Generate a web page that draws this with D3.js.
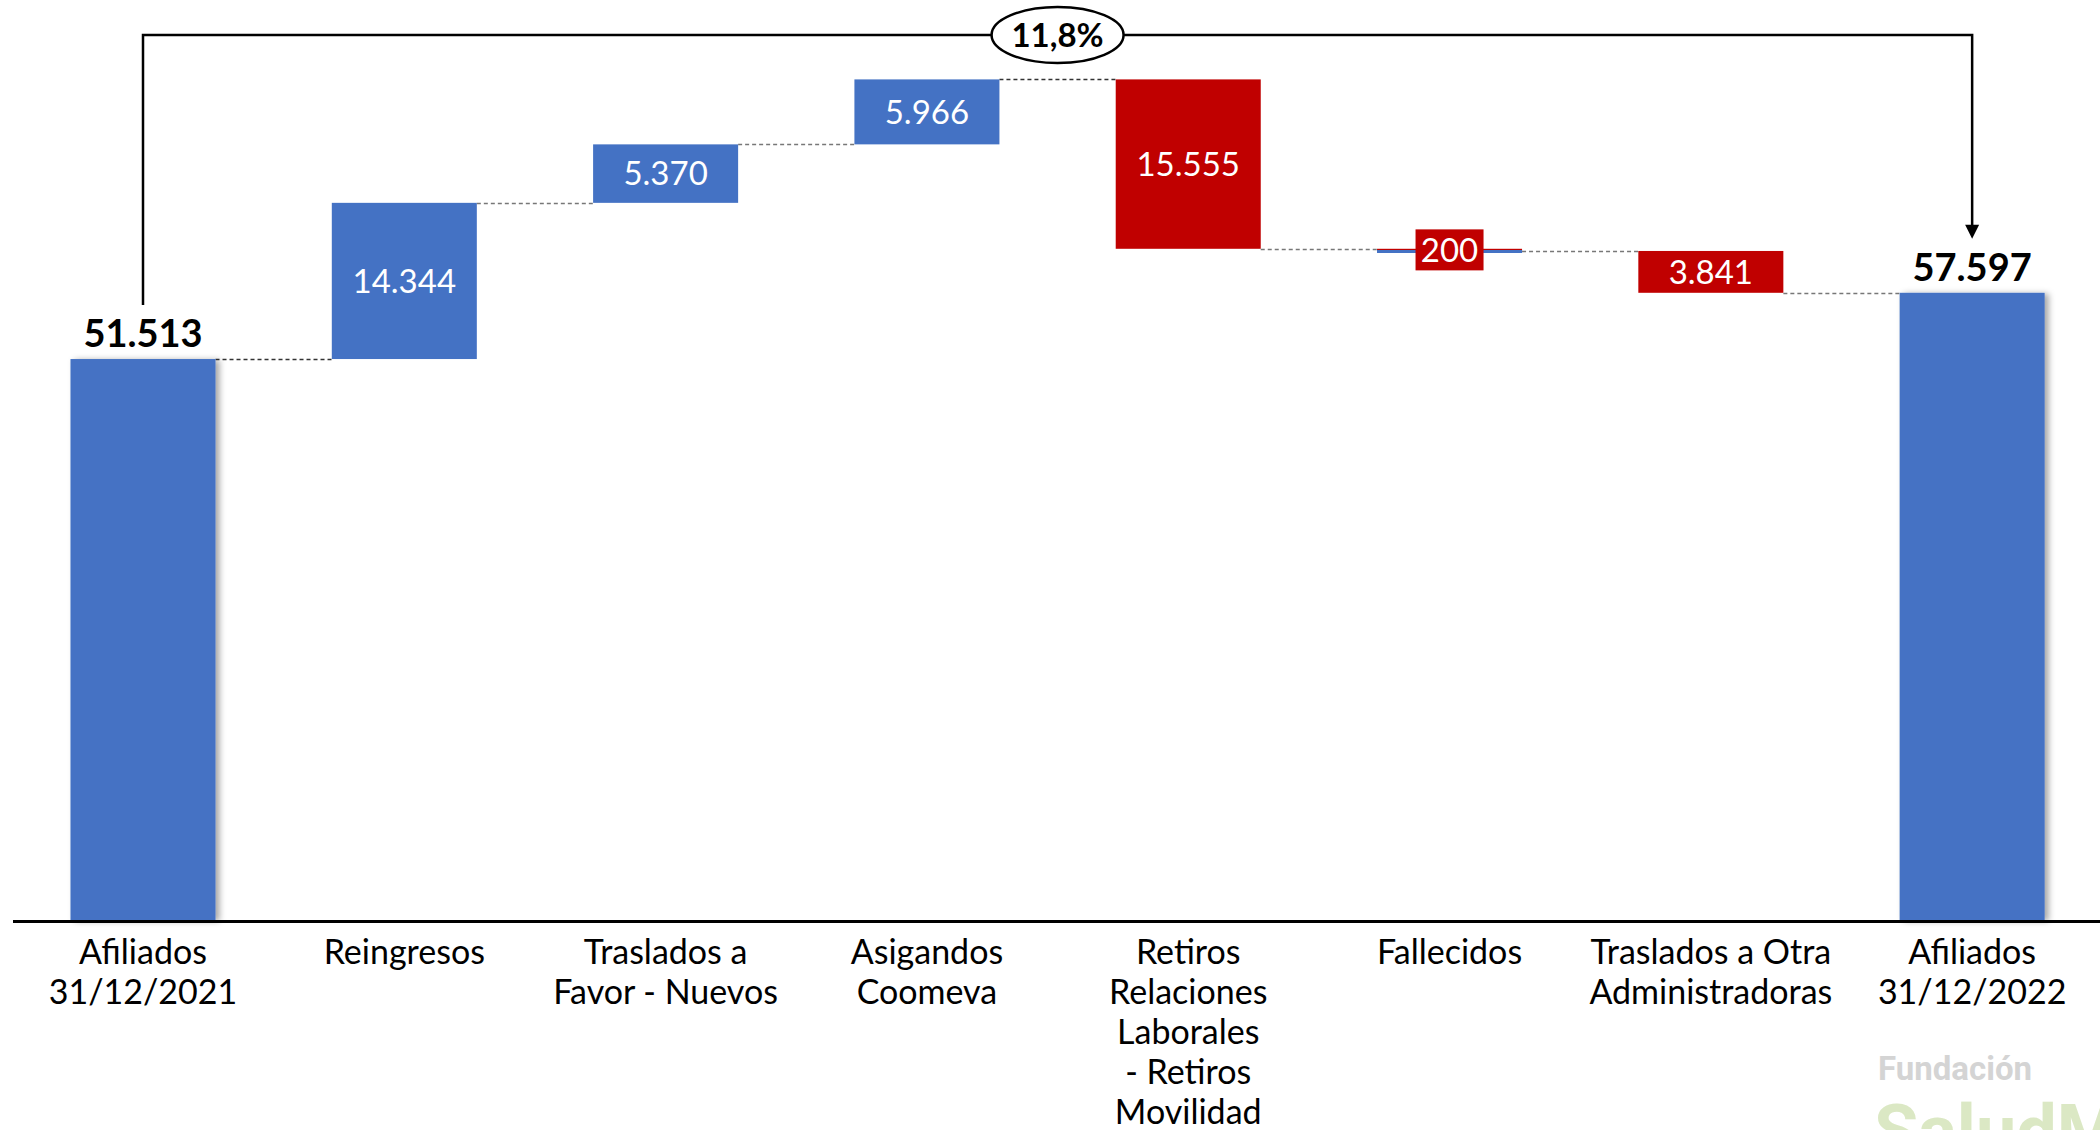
<!DOCTYPE html>
<html>
<head>
<meta charset="utf-8">
<script src="https://cdn.jsdelivr.net/npm/d3@7"></script>
<style>
  html, body { margin: 0; padding: 0; background: #fff; }
  svg { display: block; }
</style>
</head>
<body>
<svg id="chart" width="2100" height="1130"></svg>
<script>
// ---- Data ----
const categories = [
  "Afiliados 31/12/2021", "Reingresos", "Traslados a Favor - Nuevos", "Asigandos Coomeva",
  "Retiros Relaciones Laborales - Retiros Movilidad", "Fallecidos",
  "Traslados a Otra Administradoras", "Afiliados 31/12/2022"
];
const categoryLines = [
  ["Afiliados", "31/12/2021"], ["Reingresos"], ["Traslados a", "Favor - Nuevos"], ["Asigandos", "Coomeva"],
  ["Retiros", "Relaciones", "Laborales", "- Retiros", "Movilidad"], ["Fallecidos"],
  ["Traslados a Otra", "Administradoras"], ["Afiliados", "31/12/2022"]
];
const values = [51513, 14344, 5370, 5966, -15555, -200, -3841, 57597];
const types  = ["total", "inc", "inc", "inc", "dec", "dec", "dec", "total"];

// ---- Build waterfall ----
const fmtLocale = d3.formatLocale({decimal: ",", thousands: ".", grouping: [3], currency: ["", ""]});
const fmtNum = fmtLocale.format(",d");
const fmtPct = fmtLocale.format(".1%");

let running = 0;
const rows = categories.map((c, i) => {
  let start, end;
  if (types[i] === "total") { start = 0; end = values[i]; running = values[i]; }
  else { start = running; end = running + values[i]; running = end; }
  return {cat: c, lines: categoryLines[i], value: values[i], type: types[i], start, end,
          lo: Math.min(start, end), hi: Math.max(start, end), level: end};
});
const maxVal = d3.max(rows, d => d.hi);

const svg = d3.select("#chart");
const x = d3.scaleBand().domain(categories).range([12.35, 2102.8]).paddingInner(0.445).paddingOuter(0.2225);
const y = d3.scaleLinear().domain([0, maxVal]).range([920, 79.4]);

const blue = "#4472C4", red = "#C00000";

// shadow filter
const defs = svg.append("defs");
const f = defs.append("filter").attr("id", "shadow").attr("x", "-10%").attr("y", "-10%").attr("width", "130%").attr("height", "120%");
f.append("feDropShadow").attr("dx", 4).attr("dy", 1).attr("stdDeviation", 3).attr("flood-color", "#000").attr("flood-opacity", 0.35);

// connectors
const conn = svg.append("g");
rows.slice(0, -1).forEach((d, i) => {
  const n = rows[i + 1];
  conn.append("line")
    .attr("x1", x(d.cat) + x.bandwidth()).attr("x2", x(n.cat))
    .attr("y1", Math.round(y(d.level)) + 0.5).attr("y2", Math.round(y(d.level)) + 0.5)
    .attr("stroke", i === 0 || i === 3 ? "#333" : "#777").attr("stroke-width", 1.5)
    .attr("stroke-dasharray", "4,3");
});

// bars
svg.append("g").selectAll("rect").data(rows).join("rect")
  .attr("x", d => x(d.cat))
  .attr("width", x.bandwidth())
  .attr("y", d => y(d.hi))
  .attr("height", d => Math.max(1, y(d.lo) - y(d.hi)))
  .attr("fill", d => d.type === "dec" ? red : blue)
  .attr("filter", d => d.type === "total" ? "url(#shadow)" : null);

// Small bar marker (Fallecidos) blue line
rows.forEach(d => {
  if (d.type !== "total" && Math.abs(d.value) < 1000) {
    svg.append("line")
      .attr("x1", x(d.cat)).attr("x2", x(d.cat) + x.bandwidth())
      .attr("y1", y(d.level) + 0.5).attr("y2", y(d.level) + 0.5)
      .attr("stroke", blue).attr("stroke-width", 3);
  }
});

// inner labels
const font = "Lato, 'Open Sans', sans-serif";
rows.forEach(d => {
  if (d.type === "total") return;
  const cx = x(d.cat) + x.bandwidth() / 2;
  const h = y(d.lo) - y(d.hi);
  const cy = (y(d.lo) + y(d.hi)) / 2;
  const txt = fmtNum(Math.abs(d.value));
  if (h < 30) {
    const w = 68, bh = 41;
    svg.append("rect").attr("x", cx - w / 2).attr("y", cy - bh / 2).attr("width", w).attr("height", bh).attr("fill", red);
  }
  svg.append("text").attr("x", cx).attr("y", cy).attr("dy", "0.36em")
    .attr("text-anchor", "middle").attr("fill", "#fff")
    .style("font-family", font).style("font-size", "33px").text(txt);
});

// total labels
rows.filter(d => d.type === "total").forEach(d => {
  svg.append("text").attr("x", x(d.cat) + x.bandwidth() / 2).attr("y", y(d.hi) - 12)
    .attr("text-anchor", "middle").attr("fill", "#000")
    .style("font-family", font).style("font-weight", "bold").style("font-size", "38px")
    .text(fmtNum(d.value));
});

// axis baseline
svg.append("line").attr("x1", 13).attr("x2", 2100).attr("y1", y(0) + 1.5).attr("y2", y(0) + 1.5)
  .attr("stroke", "#000").attr("stroke-width", 3);

// category labels
rows.forEach(d => {
  const t = svg.append("text").attr("text-anchor", "middle").attr("fill", "#000")
    .style("font-family", font).style("font-size", "34px");
  d.lines.forEach((ln, j) => {
    t.append("tspan").attr("x", x(d.cat) + x.bandwidth() / 2).attr("y", 964 + j * 40).text(ln);
  });
});

// bracket with change %
const first = rows[0], last = rows[rows.length - 1];
const xl = x(first.cat) + x.bandwidth() / 2, xr = x(last.cat) + x.bandwidth() / 2;
const topY = 35;
svg.append("path")
  .attr("d", `M${xl},${y(first.value) - 54} V${topY} H${xr} V${y(last.value) - 66}`)
  .attr("fill", "none").attr("stroke", "#000").attr("stroke-width", 2.5);
svg.append("path")
  .attr("d", `M${xr - 7},${y(last.value) - 68} L${xr + 7},${y(last.value) - 68} L${xr},${y(last.value) - 54} Z`)
  .attr("fill", "#000");
const ecx = (xl + xr) / 2;
svg.append("ellipse").attr("cx", ecx).attr("cy", topY).attr("rx", 66).attr("ry", 28)
  .attr("fill", "#fff").attr("stroke", "#000").attr("stroke-width", 2.5);
svg.append("text").attr("x", ecx).attr("y", topY).attr("dy", "0.36em").attr("text-anchor", "middle")
  .style("font-family", font).style("font-weight", "bold").style("font-size", "33px")
  .text(fmtPct((last.value - first.value) / first.value));

// watermark
svg.append("text").attr("x", 1878).attr("y", 1080).style("font-family", "Roboto, sans-serif")
  .style("font-weight", "bold").style("font-size", "33px").attr("fill", "#d4d4d4").text("Fundación");
svg.append("text").attr("x", 1874).attr("y", 1156).style("font-family", "Roboto, sans-serif")
  .style("font-weight", "bold").style("font-size", "72px").attr("fill", "#dbe8c4").text("SaludM");
</script>
</body>
</html>
